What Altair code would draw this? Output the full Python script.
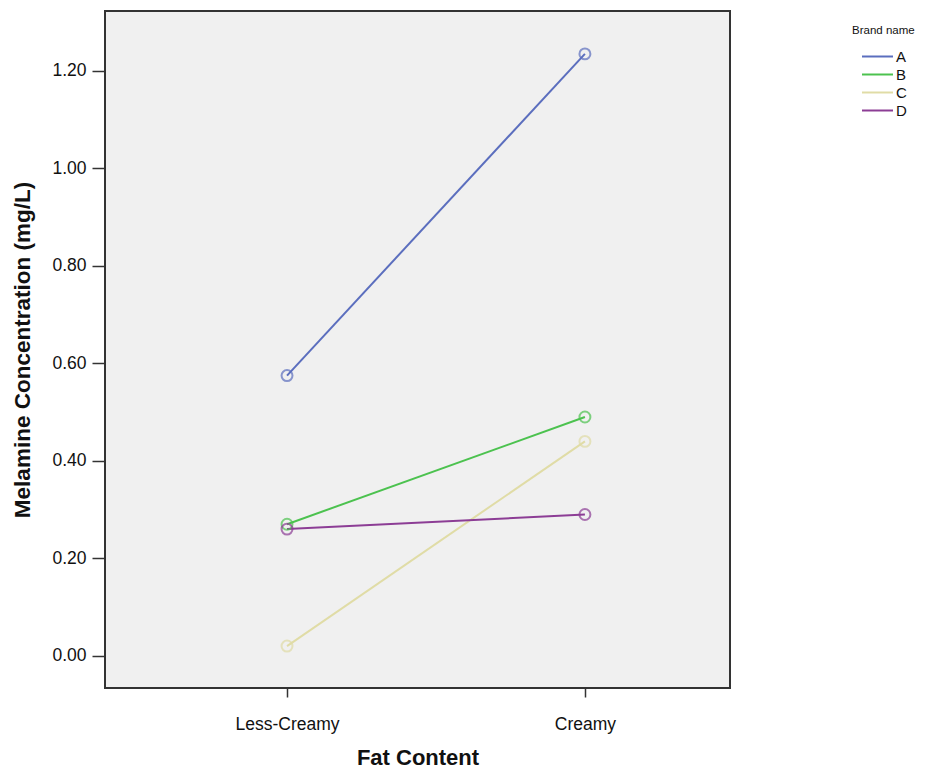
import altair as alt
import pandas as pd

categories = ["Less-Creamy", "Creamy"]
brands = ["A", "B", "C", "D"]
values_A = [0.575, 1.235]
values_B = [0.27, 0.49]
values_C = [0.02, 0.44]
values_D = [0.26, 0.29]
colors = ["#5B6EBE", "#4CC24F", "#E0DCA6", "#8C3D95"]

series = {"A": values_A, "B": values_B, "C": values_C, "D": values_D}
rows = []
for b in brands:
    for i, c in enumerate(categories):
        rows.append({"brand": b, "fat": c, "idx": i, "value": series[b][i]})
df = pd.DataFrame(rows)

FONT = "Liberation Sans"

x = alt.X(
    "idx:Q",
    scale=alt.Scale(domain=[-0.611, 1.487], nice=False, zero=False),
    axis=alt.Axis(
        title="Fat Content",
        values=[0, 1],
        labelExpr="datum.value == 0 ? 'Less-Creamy' : 'Creamy'",
        grid=False,
        domain=False,
        tickSize=9,
        tickColor="#333333",
        tickWidth=1.5,
        labelFontSize=17.5,
        labelPadding=18,
        labelColor="#111111",
        titleFontSize=22,
        titleFontWeight="bold",
        titlePadding=15,
        titleColor="#111111",
    ),
)
y = alt.Y(
    "value:Q",
    scale=alt.Scale(domain=[-0.066, 1.323], nice=False, zero=False),
    axis=alt.Axis(
        title="Melamine Concentration (mg/L)",
        values=[0, 0.2, 0.4, 0.6, 0.8, 1.0, 1.2],
        format=".2f",
        grid=False,
        domain=False,
        tickSize=13,
        tickColor="#333333",
        tickWidth=1.5,
        labelFontSize=17.5,
        labelPadding=6,
        labelColor="#111111",
        titleFontSize=22.5,
        titleFontWeight="bold",
        titlePadding=17,
        titleColor="#111111",
    ),
)
color = alt.Color(
    "brand:N",
    scale=alt.Scale(domain=brands, range=colors),
    legend=alt.Legend(
        title="Brand name",
        orient="none",
        legendX=747,
        legendY=14,
        symbolType="M 0.125 0 L 4 0",
        symbolStrokeWidth=2,
        symbolSize=256,
        labelFontSize=15,
        labelOffset=26,
        labelColor="#111111",
        titleFontSize=11.5,
        titleFontWeight="normal",
        titleColor="#111111",
        titleAnchor="start",
        titlePadding=11,
        rowPadding=1,
        padding=0,
    ),
)

lines = alt.Chart(df).mark_line(strokeWidth=2).encode(x=x, y=y, color=color, detail="brand:N")
points = alt.Chart(df).mark_point(filled=False, size=120, strokeWidth=2).encode(
    x=x, y=y, color=alt.Color("brand:N", scale=alt.Scale(domain=brands, range=colors), legend=None)
)

chart = (
    alt.layer(lines, points)
    .properties(
        width=625,
        height=677,
        autosize=alt.AutoSizeParams(type="none"),
        padding={"left": 97, "top": 3, "right": 198, "bottom": 82},
        background="white",
    )
    .configure(
        font=FONT,
        view=alt.ViewConfig(fill="#F0F0F0", stroke="#333333", strokeWidth=2),
    )
)

chart.save("out.html", embed_options={"renderer": "svg", "actions": False})
